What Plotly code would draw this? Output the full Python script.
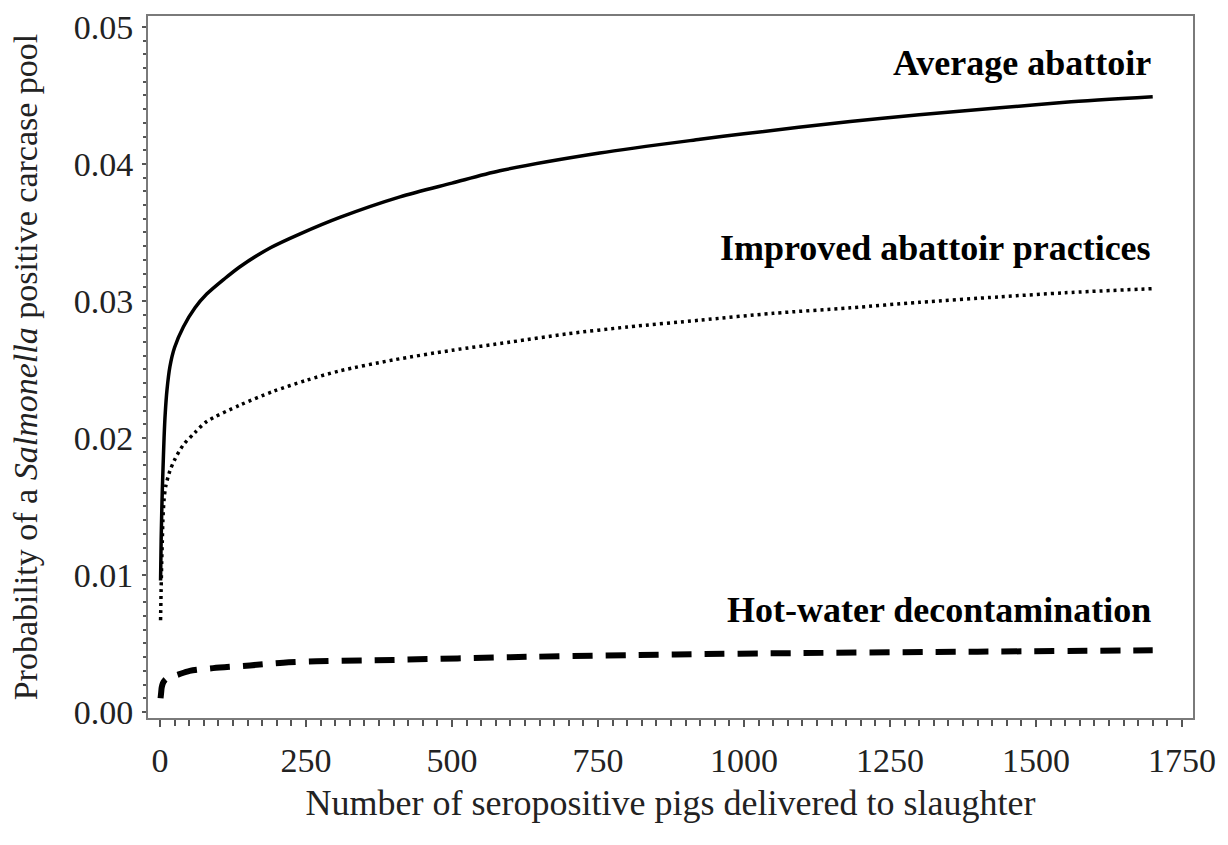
import plotly.graph_objects as go

# ---- data ----
avg_x = [1, 2, 3, 4, 5, 7, 9, 12, 17, 25, 40, 60, 80, 110, 137, 190, 240, 308, 411, 500,
         582, 753, 925, 1000, 1182, 1300, 1438, 1550, 1700]
avg_y = [0.0096, 0.0125, 0.0145, 0.0162, 0.0175, 0.0200, 0.0218, 0.0235, 0.0252, 0.0266,
         0.0281, 0.0295, 0.0305, 0.0316, 0.0325, 0.0339, 0.0349, 0.0361, 0.0376, 0.0386,
         0.0395, 0.0408, 0.0418, 0.0422, 0.0431, 0.0436, 0.0441, 0.0445, 0.0449]

imp_x = [1, 2, 3, 4, 5, 7, 10, 17, 25, 40, 60, 80, 137, 194, 250, 308, 400, 500, 600, 697,
         800, 925, 1050, 1182, 1300, 1438, 1550, 1700]
imp_y = [0.0067, 0.0090, 0.0110, 0.0125, 0.0140, 0.0155, 0.0165, 0.0176, 0.0184, 0.0195,
         0.0204, 0.0212, 0.0224, 0.0234, 0.0242, 0.0249, 0.0257, 0.0264, 0.0270, 0.0276,
         0.0281, 0.0286, 0.0291, 0.0295, 0.0299, 0.0303, 0.0306, 0.0309]

hot_x = [1, 2, 3, 5, 8, 14, 29, 51, 91, 154, 211, 268, 400, 600, 882, 1100, 1400, 1700]
hot_y = [0.0010, 0.0014, 0.0018, 0.0021, 0.0023, 0.0025, 0.0027, 0.0030, 0.0032, 0.0034,
         0.0036, 0.0037, 0.0038, 0.0040, 0.0042, 0.0043, 0.0044, 0.0045]

labels = ["Average abattoir", "Improved abattoir practices", "Hot-water decontamination"]
label_y = [0.0474, 0.0339, 0.00745]

x_ticks = [0, 250, 500, 750, 1000, 1250, 1500, 1750]
y_ticks = [0.00, 0.01, 0.02, 0.03, 0.04, 0.05]

FONT = "Liberation Serif, Times New Roman, serif"

fig = go.Figure()
fig.add_trace(go.Scatter(x=avg_x, y=avg_y, mode="lines", line=dict(color="black", width=3.5, shape="spline", smoothing=0.8),
                         showlegend=False))
fig.add_trace(go.Scatter(x=imp_x, y=imp_y, mode="lines",
                         line=dict(color="black", width=3.5, dash="3px,4px", shape="spline", smoothing=0.8), showlegend=False))
fig.add_trace(go.Scatter(x=hot_x, y=hot_y, mode="lines",
                         line=dict(color="black", width=6, dash="20px,13px", shape="spline", smoothing=0.8), showlegend=False))

for t, yv in zip(labels, label_y):
    fig.add_annotation(x=1700, y=yv, text="<b>%s</b>" % t, showarrow=False, xanchor="right", yanchor="middle",
                       font=dict(family=FONT, size=36, color="black"))

axis_common = dict(showline=True, linecolor="#7a7a7a", linewidth=2, mirror=True, showgrid=False, zeroline=False,
                   ticks="outside", tickcolor="#555555", tickfont=dict(family=FONT, size=34, color="#222"))

fig.update_xaxes(range=[-20.5, 1769], tickvals=x_ticks, ticktext=[str(v) for v in x_ticks], ticklen=7, tickwidth=1.5,
                 ticklabelstandoff=4,
                 minor=dict(dtick=25, tick0=0, ticks="outside", ticklen=6, tickcolor="#555555", tickwidth=1.5),
                 title=dict(text="Number of seropositive pigs delivered to slaughter",
                            font=dict(family=FONT, size=36, color="#222"), standoff=12),
                 **axis_common)
fig.update_yaxes(range=[-0.00044, 0.0508], tickvals=y_ticks, ticktext=["%.2f" % v for v in y_ticks], ticklen=4,
                 tickwidth=1.5, ticklabelstandoff=2,
                 minor=dict(dtick=0.001, tick0=0, ticks="outside", ticklen=3, tickcolor="#555555", tickwidth=1.5),
                 title=dict(text="Probability of a <i>Salmonella</i> positive carcase pool",
                            font=dict(family=FONT, size=34, color="#222"), standoff=26),
                 **axis_common)

fig.update_layout(width=1228, height=845, margin=dict(l=148, r=35, t=16, b=127, autoexpand=False),
                  plot_bgcolor="white", paper_bgcolor="white")

fig.write_html("out.html")
